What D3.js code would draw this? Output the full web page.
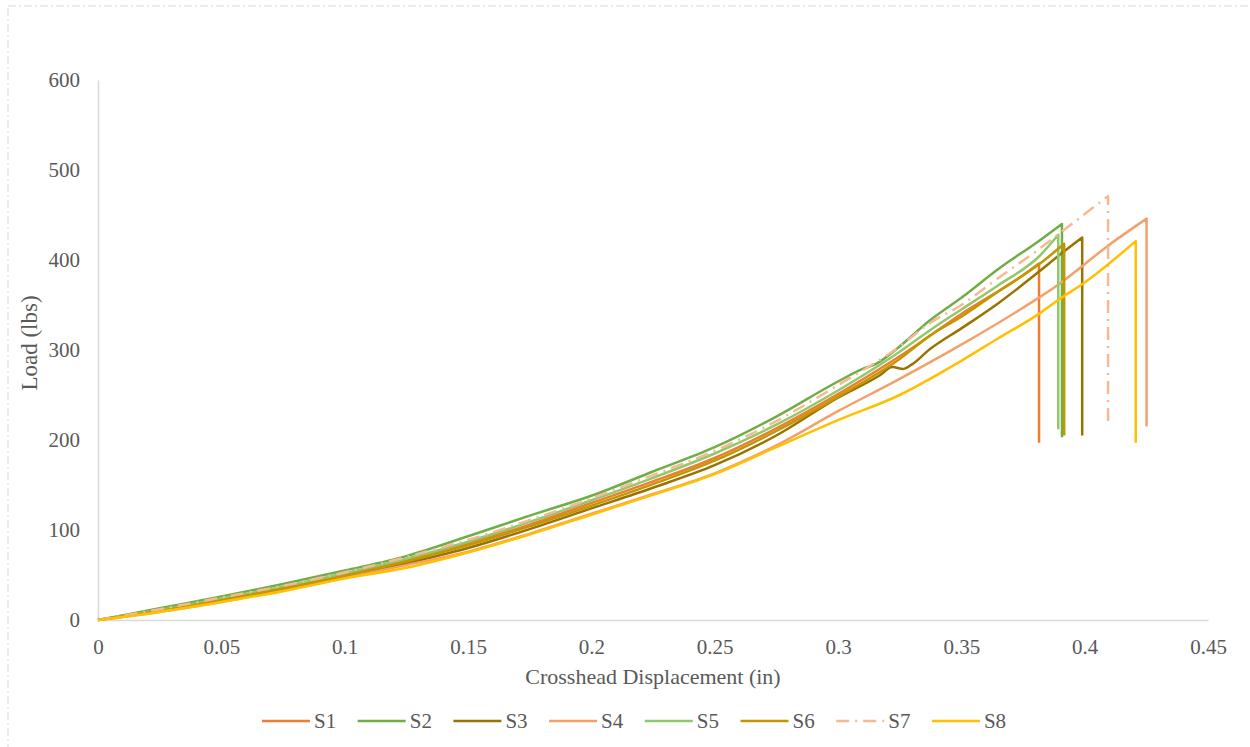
<!DOCTYPE html>
<html>
<head>
<meta charset="utf-8">
<script src="https://cdn.jsdelivr.net/npm/d3@7"></script>
<style>
  body { margin: 0; background: #fff; }
  text { font-family: "Liberation Serif", "Times New Roman", serif; fill: #595959; }
</style>
</head>
<body>
<div class="container"></div>
<script>

// load (lbs) vs crosshead displacement (in)
// last point of each series is the drop after failure
var s1 = [[0,0],[0.025,11],[0.05,23],[0.075,36],[0.1,51],[0.125,67],[0.15,85],[0.175,106],[0.2,130],[0.225,154],[0.25,180],[0.275,213],[0.3,251],[0.325,293],[0.35,340],[0.375,383],[0.3815,396],[0.3815,197]];
var s2 = [[0,0],[0.025,13],[0.05,26],[0.075,40],[0.1,55],[0.125,71],[0.15,93],[0.175,116],[0.2,138],[0.225,165],[0.25,192],[0.275,226],[0.3,265],[0.31,279],[0.315,284],[0.325,304],[0.3373,333],[0.35,358],[0.365,390],[0.3819,422],[0.3908,440],[0.3908,203]];
var s3 = [[0,0],[0.025,10],[0.05,21],[0.075,33],[0.1,47],[0.125,63],[0.15,80],[0.175,101],[0.2,124],[0.225,147],[0.25,172],[0.275,205],[0.3,247],[0.317,272],[0.322,281],[0.3265,279],[0.33,284],[0.3373,301],[0.35,324],[0.365,352],[0.3819,388],[0.39,406],[0.399,425],[0.399,205]];
var s4 = [[0,0],[0.025,9],[0.05,20],[0.075,33],[0.1,47],[0.125,61],[0.15,76],[0.175,96],[0.2,118],[0.225,140],[0.25,163],[0.275,194],[0.3,232],[0.325,268],[0.35,306],[0.375,347],[0.39,374],[0.41,417],[0.4251,446],[0.4251,215]];
var s5 = [[0,0],[0.025,11],[0.05,24],[0.075,37],[0.1,52],[0.125,68],[0.15,87],[0.175,109],[0.2,133],[0.225,158],[0.25,185],[0.275,217],[0.3,255],[0.325,298],[0.3373,322],[0.35,345],[0.365,372],[0.3819,405],[0.3893,428],[0.3893,212]];
var s6 = [[0,0],[0.025,10],[0.05,22],[0.075,35],[0.1,49],[0.125,65],[0.15,83],[0.175,104],[0.2,127],[0.225,151],[0.25,177],[0.275,210],[0.3,248],[0.325,290],[0.3373,316],[0.35,337],[0.365,365],[0.3819,396],[0.3917,418],[0.3917,205]];
var s7 = [[0,0],[0.025,12],[0.05,25],[0.075,38],[0.1,53],[0.125,70],[0.15,89],[0.175,111],[0.2,135],[0.225,161],[0.25,188],[0.275,221],[0.3,261],[0.325,304],[0.3373,330],[0.35,350],[0.365,380],[0.3819,413],[0.39,430],[0.4,451],[0.4095,471],[0.4095,219]];
var s8 = [[0,0],[0.025,9],[0.05,20],[0.075,32],[0.1,46],[0.125,58],[0.15,75],[0.175,95],[0.2,117],[0.225,139],[0.25,162],[0.275,192],[0.3,222],[0.325,250],[0.35,288],[0.365,313],[0.3819,341],[0.39,357],[0.4,375],[0.4207,421],[0.4207,197]];

var names = ["S1", "S2", "S3", "S4", "S5", "S6", "S7", "S8"];
var seriesData = [s1, s2, s3, s4, s5, s6, s7, s8];
var colors = ["#ED7D31", "#70AD47", "#997300", "#F4A06A", "#8FC96B", "#C49600", "#F6B993", "#FFC000"];
var dashes = [null, null, null, null, null, null, "13,6,2,6", null];

var xTicks = [0, 0.05, 0.1, 0.15, 0.2, 0.25, 0.3, 0.35, 0.4, 0.45];
var yTicks = [0, 100, 200, 300, 400, 500, 600];

var W = 1250, H = 747;
var plotLeft = 98, plotRight = 1208, plotTop = 80, plotBottom = 620;

var svg = d3.select(".container")
			.append("svg")
			.attr("width", W)
			.attr("height", H);

// dash-dot frame round the chart
svg.append("rect")
   .attr("x", 8).attr("y", 6)
   .attr("width", W + 20).attr("height", H + 20)
   .style("fill", "none")
   .style("stroke", "#D9D9D9")
   .style("stroke-width", 1)
   .style("stroke-dasharray", "8,3,2,3");

var x = d3.scaleLinear().domain([0, 0.45]).range([plotLeft, plotRight]);
var y = d3.scaleLinear().domain([0, 600]).range([plotBottom, plotTop]);

// axes
var xAxis = svg.append("g")
			   .attr("transform", "translate(0," + plotBottom + ")")
			   .call(d3.axisBottom(x).tickValues(xTicks).tickSize(0).tickPadding(19)
					   .tickFormat(function (d) { return String(+d.toFixed(2)); }));
var yAxis = svg.append("g")
			   .attr("transform", "translate(" + plotLeft + ",0)")
			   .call(d3.axisLeft(y).tickValues(yTicks).tickSize(0).tickPadding(18));

[xAxis, yAxis].forEach(function (g) {
	g.select(".domain").style("stroke", "#D9D9D9").style("stroke-width", 1.5);
	g.selectAll("text")
	 .style("font-family", "'Liberation Serif', serif")
	 .style("font-size", "21px")
	 .style("fill", "#595959");
});

// titles
svg.append("text")
   .attr("x", (plotLeft + plotRight) / 2)
   .attr("y", 684)
   .attr("text-anchor", "middle")
   .style("font-size", "22px")
   .text("Crosshead Displacement (in)");

svg.append("text")
   .attr("transform", "translate(37," + ((plotTop + plotBottom) / 2 - 7) + ") rotate(-90)")
   .attr("text-anchor", "middle")
   .style("font-size", "23px")
   .text("Load (lbs)");

// curves: smooth rise, then a straight drop at failure
var rise = d3.line()
			 .x(function (d) { return x(d[0]); })
			 .y(function (d) { return y(d[1]); })
			 .curve(d3.curveMonotoneX);

function curvePath(data) {
	var last = data[data.length - 1];
	return rise(data.slice(0, -1)) + "L" + x(last[0]) + "," + y(last[1]);
}

seriesData.forEach(function (data, i) {
	svg.append("path")
	   .attr("d", curvePath(data))
	   .style("fill", "none")
	   .style("stroke", colors[i])
	   .style("stroke-width", 2.5)
	   .style("stroke-linejoin", "round")
	   .style("stroke-dasharray", dashes[i]);
});

// legend
var legend = svg.append("g").attr("transform", "translate(262,721)");
names.forEach(function (name, i) {
	var g = legend.append("g").attr("transform", "translate(" + (i * 95.7) + ",0)");
	g.append("line")
	 .attr("x1", 0).attr("x2", 48)
	 .attr("y1", 0).attr("y2", 0)
	 .style("stroke", colors[i])
	 .style("stroke-width", 2.5)
	 .style("stroke-dasharray", dashes[i]);
	g.append("text")
	 .attr("x", 52)
	 .attr("y", 7)
	 .style("font-size", "21px")
	 .text(name);
});

</script>
</body>
</html>
